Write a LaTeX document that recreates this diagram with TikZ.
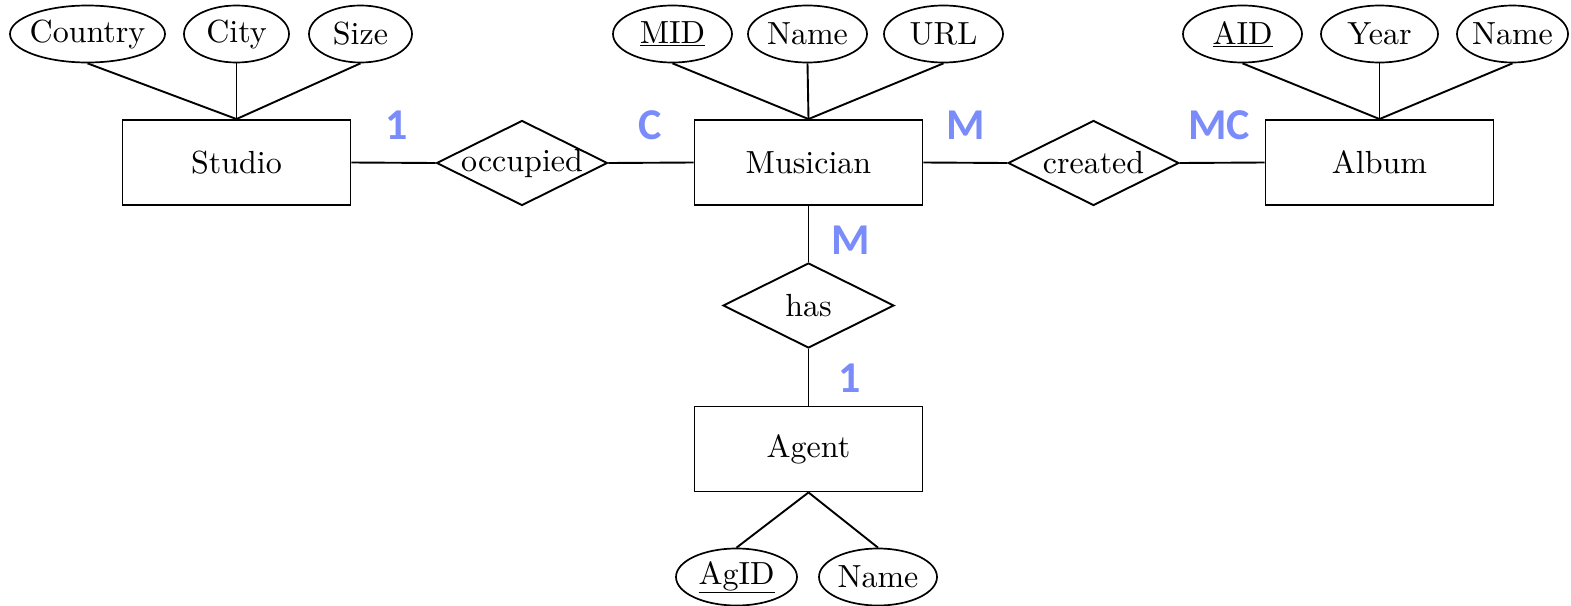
\documentclass[tikz,border=0pt]{standalone}
\usepackage{fontspec}
\setmainfont{lmroman10-regular}[Extension=.otf]
\newfontfamily\cardfont{Carlito}
\usetikzlibrary{shapes.geometric}
\definecolor{cardblue}{RGB}{122,139,250}
\newcommand{\nw}[1]{\makebox[0pt]{#1}}
\begin{document}
\begin{tikzpicture}[x=1pt,y=-1pt,
  every node/.style={font=\fontsize{32}{38}\selectfont},
  entity/.style={draw, line width=1.9pt, rectangle, minimum width=228pt, minimum height=85pt, inner sep=0pt},
  rel/.style={draw, line width=1.9pt, diamond, minimum width=171pt, minimum height=85pt, inner sep=0pt},
  attr/.style={draw, line width=1.7pt, ellipse, minimum height=57pt, inner sep=0pt},
  link/.style={line width=1.9pt},
  card/.style={text=cardblue, font=\cardfont\bfseries\fontsize{44}{50}\selectfont, inner sep=0pt}]
\useasboundingbox (0,0) rectangle (1571,605);

% entities
\node[entity] (studio) at (236.5,162.5) {Studio};
\node[entity] (musician) at (808.5,162.5) {Musician};
\node[entity] (album) at (1379.5,162.5) {Album};
\node[entity] (agent) at (808.5,449) {Agent};

% relationships
\node[rel] (occupied) at (522,163) {\nw{occupied}};
\node[rel] (created) at (1093.5,163) {\nw{created}};
\node[rel] (has) at (808.5,305.5) {\nw{has}};

% attributes
\node[attr, minimum width=155pt] (country) at (87.5,34) {\nw{Country}};
\node[attr, minimum width=105pt] (city) at (236.5,34) {\nw{City}};
\node[attr, minimum width=103pt] (size) at (360.5,34) {\nw{Size}};
\node[attr, minimum width=119pt] (mid) at (672.5,34) {\nw{\underline{MID}}};
\node[attr, minimum width=119pt] (mname) at (807.5,34) {\nw{Name}};
\node[attr, minimum width=119pt] (url) at (943.5,34) {\nw{URL}};
\node[attr, minimum width=119pt] (aid) at (1242.5,34) {\nw{\underline{AID}}};
\node[attr, minimum width=117pt] (year) at (1379.5,34) {\nw{Year}};
\node[attr, minimum width=111pt] (aname) at (1512.5,34) {\nw{Name}};
\node[attr, minimum width=121pt] (agid) at (736.5,577) {\nw{\underline{AgID}}};
\node[attr, minimum width=118pt] (agname) at (878,577) {\nw{Name}};

% attribute links
\foreach \a in {country,city,size} \draw[link] (\a.south) -- (studio.north);
\foreach \a in {mid,mname,url} \draw[link] (\a.south) -- (musician.north);
\foreach \a in {aid,year,aname} \draw[link] (\a.south) -- (album.north);
\foreach \a in {agid,agname} \draw[link] (\a.north) -- (agent.south);

% relationship links
\draw[link] (studio.east) -- (occupied.west);
\draw[link] (occupied.east) -- (musician.west);
\draw[link] (musician.east) -- (created.west);
\draw[link] (created.east) -- (album.west);
\draw[link] (musician.south) -- (has.north);
\draw[link] (has.south) -- (agent.north);

% cardinalities
\node[card] (c1) at (397,125) {1};
\node[card] (c2) at (650,125) {C};
\node[card] (c3) at (966,125) {M};
\node[card] (c4) at (1219,125) {MC};
\node[card] (c5) at (851,240) {M};
\node[card] (c6) at (850,378) {1};
\end{tikzpicture}
\end{document}
